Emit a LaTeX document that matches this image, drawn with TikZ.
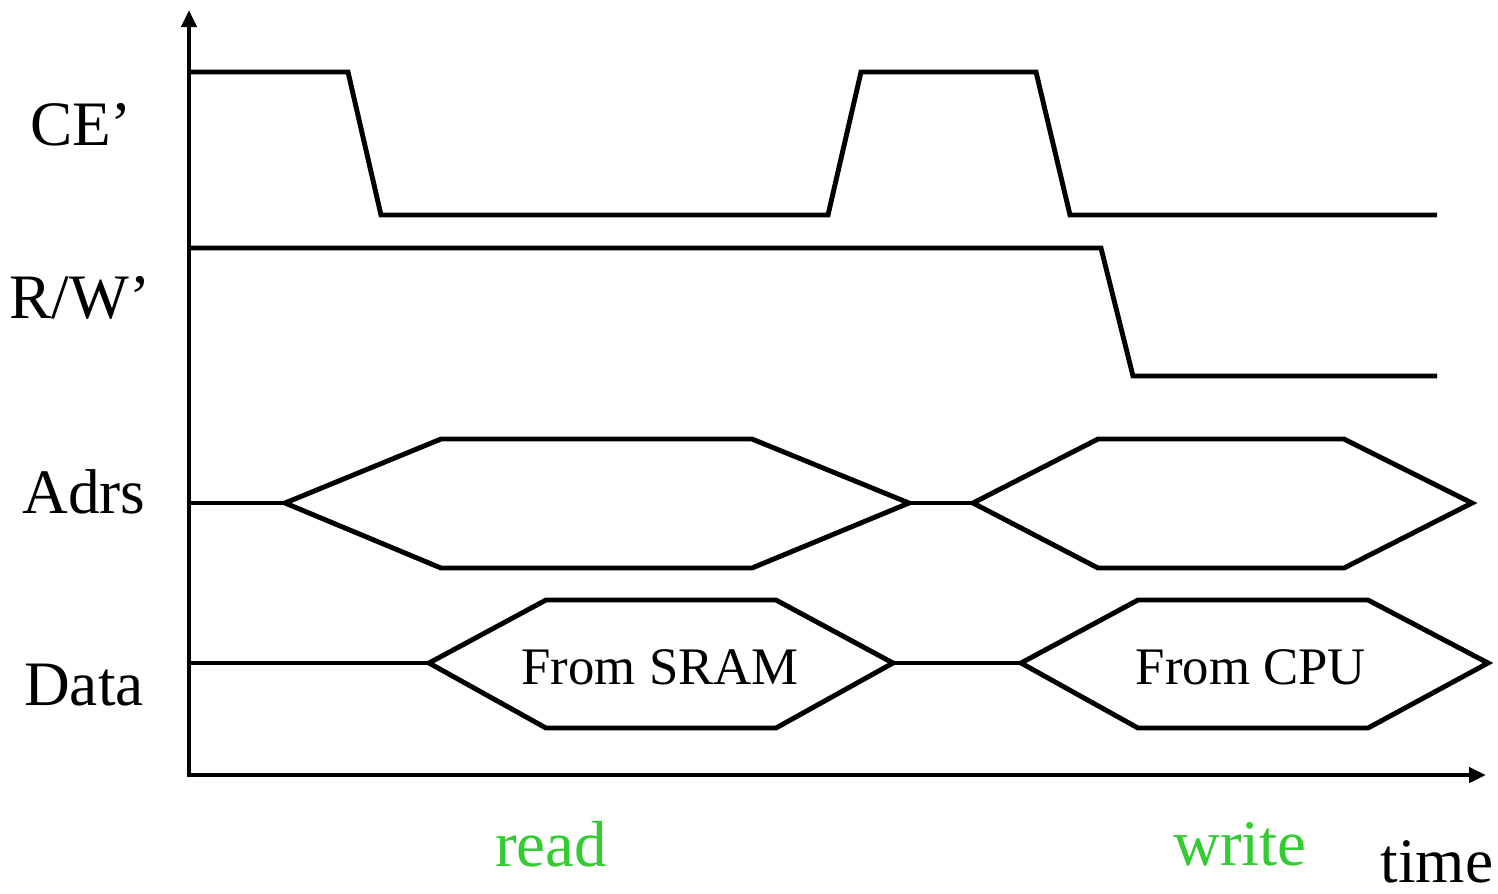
\documentclass[tikz,border=0pt]{standalone}
\usepackage{fontspec}
\setmainfont{Liberation Serif}
\usetikzlibrary{arrows.meta}
\definecolor{labelgreen}{RGB}{51,204,51}
\tikzset{
  wave/.style={line width=1.4pt, line join=miter},
  axis/.style={line width=1.4pt, -{Triangle[length=0.17cm,width=0.15cm]}},
  sig/.style={font=\fontsize{18}{21}\selectfont},
  busText/.style={font=\fontsize{15}{18}\selectfont},
  phase/.style={font=\fontsize{18.5}{22}\selectfont, text=labelgreen}
}
\begin{document}
\begin{tikzpicture}[x=0.01cm, y=-0.01cm]
        \useasboundingbox (0,0) rectangle (1498,893);
        % axes
        \draw[axis] (189,777) -- (189,10);
        \draw[axis] (187,775) -- (1486,775);
        % signal names
        \node[sig] (ce) at (81,125) {CE’};
        \node[sig] (rw) at (80,298) {R/W’};
        \node[sig] (adrs) at (84,492) {Adrs};
        \node[sig] (data) at (84,685) {Data};
        % CE'
        \draw[wave] (189,72) -- (348,72) -- (381,215) -- (828,215) -- (861,72) -- (1036,72) -- (1070,215) -- (1437,215);
        % R/W'
        \draw[wave] (189,248) -- (1101,248) -- (1133,376) -- (1437,376);
        % Adrs
        \draw[wave] (189,503) -- (285,503);
        \draw[wave] (285,503) -- (441,439) -- (752,439) -- (909,503) -- (752,568) -- (441,568) -- cycle;
        \draw[wave] (909,503) -- (973,503);
        \draw[wave] (973,503) -- (1098,439) -- (1344,439) -- (1472,503) -- (1344,568) -- (1098,568) -- cycle;
        % Data
        \draw[wave] (189,663) -- (429,663);
        \draw[wave] (429,663) -- (546,600) -- (776,600) -- (893,663) -- (776,728) -- (546,728) -- cycle;
        \draw[wave] (893,663) -- (1021,663);
        \draw[wave] (1021,663) -- (1138,600) -- (1368,600) -- (1488,663) -- (1368,728) -- (1138,728) -- cycle;
        \node[busText] (sram) at (660,667) {From SRAM};
        \node[busText] (cpu) at (1251,667) {From CPU};
        % phases
        \node[phase] (read) at (551,844) {read};
        \node[phase] (write) at (1240,844) {write};
        \node[sig] (time) at (1437,862) {time};
    \end{tikzpicture}
\end{document}
